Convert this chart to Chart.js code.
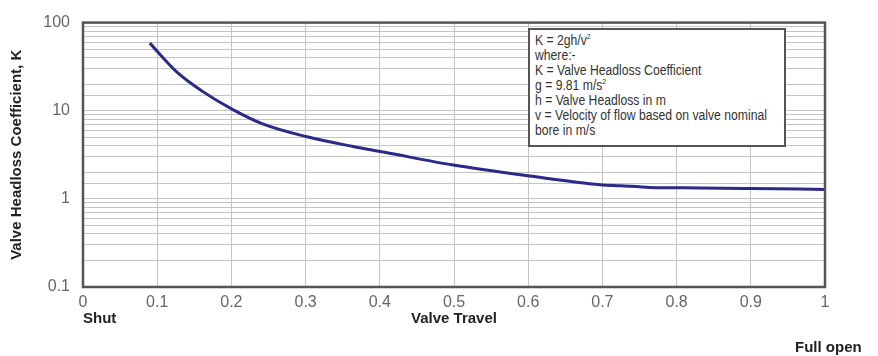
<!DOCTYPE html>
<html>
<head>
<meta charset="utf-8">
<script src="https://cdn.jsdelivr.net/npm/chart.js@4.4.0/dist/chart.umd.min.js"></script>
<style>
  html, body { margin: 0; padding: 0; background: #fff; }
  #wrap { position: relative; width: 878px; height: 356px; }
  .note {
    position: absolute; left: 528px; top: 28px; width: 258px; height: 119px;
    border: 2px solid #555; background: #fff; box-sizing: border-box;
    font-family: "Liberation Sans Narrow", "Arial Narrow", "Liberation Sans", sans-serif;
    font-size: 14px; line-height: 15px; color: #333; padding: 3px 0 0 5px;
  }
  .note div { transform: scaleX(0.87); transform-origin: left top; white-space: nowrap; }
  .note sup { font-size: 8px; line-height: 0; }
  .lbl {
    position: absolute; font-family: "Liberation Sans Narrow", "Arial Narrow", "Liberation Sans", sans-serif;
    font-weight: bold; font-size: 15px; color: #222;
  }
</style>
</head>
<body>
<div id="wrap">
  <canvas id="kChart" width="878" height="356"></canvas>
  <div class="note"><div>
    K = 2gh/v<sup>2</sup><br>
    where:-<br>
    K = Valve Headloss Coefficient<br>
    g = 9.81 m/s<sup>2</sup><br>
    h = Valve Headloss in m<br>
    v = Velocity of flow based on valve nominal<br>
    bore in m/s
  </div></div>
  <div class="lbl" style="left:83px; top:309px;">Shut</div>
  <div class="lbl" style="left:795px; top:338px;">Full open</div>
</div>
<script>
// valve travel (fraction of full opening) and headloss coefficient K
const travel = [0.09, 0.127, 0.16, 0.202, 0.243, 0.302, 0.364, 0.405, 0.499, 0.602, 0.697, 0.724, 0.764, 0.832, 0.9, 1.0];
const kValues = [58.5, 27.2, 16.8, 10.3, 7.05, 5.06, 3.93, 3.4, 2.42, 1.82, 1.45, 1.41, 1.35, 1.33, 1.31, 1.28];
const xTicks = [0, 0.1, 0.2, 0.3, 0.4, 0.5, 0.6, 0.7, 0.8, 0.9, 1];
const yTicks = [0.1, 1, 10, 100];

const points = travel.map((t, i) => ({ x: t, y: kValues[i] }));

// frame round the plot area
const frame = {
    id: 'frame',
    afterDraw(chart) {
        const a = chart.chartArea;
        const c = chart.ctx;
        c.save();
        c.strokeStyle = '#555';
        c.lineWidth = 2.5;
        c.strokeRect(a.left, a.top, a.right - a.left, a.bottom - a.top);
        c.restore();
    }
};

document.addEventListener("DOMContentLoaded", () => {
    const ctx = document.getElementById('kChart');
    new Chart(ctx.getContext('2d'), {
        type: 'scatter',
        data: {
            datasets: [{
                data: points,
                showLine: true,
                borderColor: '#2a2a88',
                borderWidth: 3,
                pointRadius: 0,
                cubicInterpolationMode: 'monotone',
                fill: false
            }]
        },
        options: {
            responsive: false,
            animation: false,
            layout: { padding: { top: 16, right: 53, bottom: 28, left: 0 } },
            plugins: { legend: { display: false }, tooltip: { enabled: false } },
            scales: {
                x: {
                    type: 'linear', min: 0, max: 1,
                    afterBuildTicks: s => { s.ticks = xTicks.map(v => ({ value: v })); },
                    afterFit: s => { s.height = 41; },
                    grid: { color: '#c4c4c4', lineWidth: 1, drawTicks: false },
                    border: { display: false },
                    ticks: {
                        color: '#666', padding: 6,
                        font: { family: 'Liberation Sans', size: 16 },
                        callback: v => String(Math.round(v * 10) / 10)
                    },
                    title: {
                        display: true, text: 'Valve Travel', color: '#222',
                        font: { family: '"Liberation Sans Narrow", "Arial Narrow", sans-serif', size: 15, weight: 'bold' },
                        padding: { top: 0, bottom: 0 }
                    }
                },
                y: {
                    type: 'logarithmic', min: 0.1, max: 100,
                    afterFit: s => { s.width = 83; },
                    grid: { color: '#c4c4c4', lineWidth: 1, drawTicks: false },
                    border: { display: false },
                    ticks: {
                        color: '#666', padding: 13, autoSkip: false,
                        font: { family: 'Liberation Sans', size: 16 },
                        callback: v => yTicks.includes(v) ? String(v) : ''
                    },
                    title: {
                        display: true, text: 'Valve Headloss Coefficient, K', color: '#222',
                        font: { family: '"Liberation Sans Narrow", "Arial Narrow", sans-serif', size: 15, weight: 'bold' },
                        padding: { top: 8, bottom: 0 }
                    }
                }
            }
        },
        plugins: [frame]
    });
});
</script>
</body>
</html>
